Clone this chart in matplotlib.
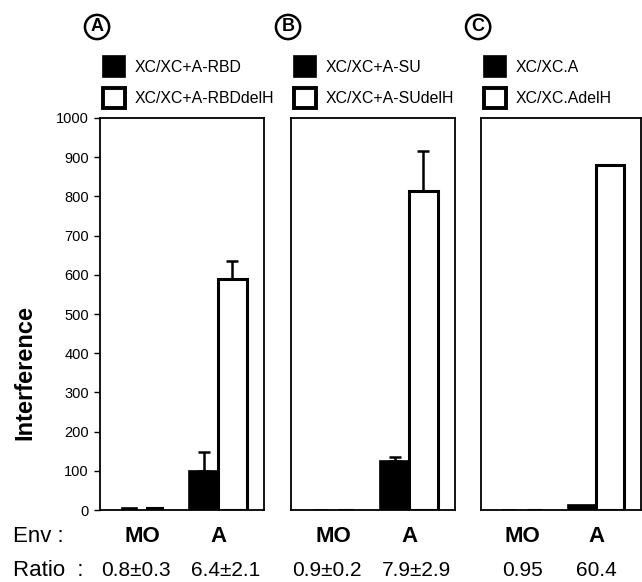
import numpy as np
import matplotlib
matplotlib.use('Agg')
import matplotlib.pyplot as plt

plt.rcParams['font.family'] = ['Liberation Sans', 'DejaVu Sans']

panel_tags = ['A', 'B', 'C']
legend_filled = ['XC/XC+A-RBD', 'XC/XC+A-SU', 'XC/XC.A']
legend_open = ['XC/XC+A-RBDdelH', 'XC/XC+A-SUdelH', 'XC/XC.AdelH']
env = ['MO', 'A']
filled_vals = [[5, 100], [1, 125], [1, 12]]
filled_err = [[0, 48], [0, 10], [0, 0]]
open_vals = [[5, 590], [1, 815], [1, 880]]
open_err = [[0, 45], [0, 100], [0, 0]]
ratios = [['0.8\u00b10.3', '6.4\u00b12.1'], ['0.9\u00b10.2', '7.9\u00b12.9'], ['0.95', '60.4']]
yticks = list(range(0, 1001, 100))

W, H = 642, 582
fig = plt.figure(figsize=(W / 100, H / 100), dpi=100)

# panel edges in pixels (left, right), shared top/bottom
panel_px = [(100, 264), (291, 455), (481, 641)]
top, bottom = 118, 510
ph = bottom - top

widths = np.array([0.2, 0.38])
gaps = np.array([0.13, 0.0])
x = np.arange(len(env))
off = (widths + gaps) / 2
ratio_shift = [-0.08, 0.1]   # the +- strings sit a little off centre

for i, (l, r) in enumerate(panel_px):
    ax = fig.add_axes([l / W, 1 - bottom / H, (r - l) / W, ph / H])
    bf = ax.bar(x - off, filled_vals[i], widths, color='black', edgecolor='black', lw=1.2)
    bo = ax.bar(x + off, open_vals[i], widths, color='white', edgecolor='black', lw=2.2)
    for xs, vals, errs in [(x - off, filled_vals[i], filled_err[i]), (x + off, open_vals[i], open_err[i])]:
        for xx, v, e in zip(xs, vals, errs):
            if e > 0:
                ax.errorbar(xx, v, yerr=[[0], [e]], fmt='none', ecolor='black',
                            elinewidth=1.8, capsize=4, capthick=1.8)
    ax.set_xlim(-0.553, 1.605)
    ax.set_ylim(0, 1000)
    ax.set_xticks([])
    for s in ax.spines.values():
        s.set_linewidth(1.3)
    if i == 0:
        ax.set_yticks(yticks)
        ax.tick_params(axis='y', direction='out', length=4, width=1, labelsize=10.5, pad=4)
    else:
        ax.set_yticks([])

    leg = ax.legend([bf, bo], [legend_filled[i], legend_open[i]], loc='lower left',
                    bbox_to_anchor=(0.018, 1 + 10 / ph), frameon=False, fontsize=11.4,
                    handlelength=1.4, handleheight=1.6, handletextpad=0.6,
                    labelspacing=0.7, borderpad=0, borderaxespad=0)
    leg.get_patches()[1].set_linewidth(2.8)
    ax.text(-0.018, 1 + (top - 27) / ph, panel_tags[i], transform=ax.transAxes,
            ha='center', va='center', fontsize=13, fontweight='bold',
            bbox=dict(boxstyle='circle,pad=0.2', fc='white', ec='black', lw=1.8))

    tr = ax.get_xaxis_transform()
    for j, (xx, e, rt) in enumerate(zip(x, env, ratios[i])):
        ax.text(xx, -27 / ph, e, transform=tr, ha='center', va='center',
                fontsize=16, fontweight='bold')
        sh = ratio_shift[j] if '\u00b1' in rt else 0
        ax.text(xx + sh, -60 / ph, rt, transform=tr, ha='center', va='center', fontsize=15)

fig.text(13 / W, 1 - 537 / H, 'Env :', fontsize=16, va='center', ha='left')
fig.text(13 / W, 1 - 570 / H, 'Ratio  :', fontsize=16, va='center', ha='left')
fig.text(25 / W, 1 - 372 / H, 'Interference', fontsize=17, fontweight='bold',
         rotation=90, ha='center', va='center')

fig.savefig('out.png', dpi=100)
